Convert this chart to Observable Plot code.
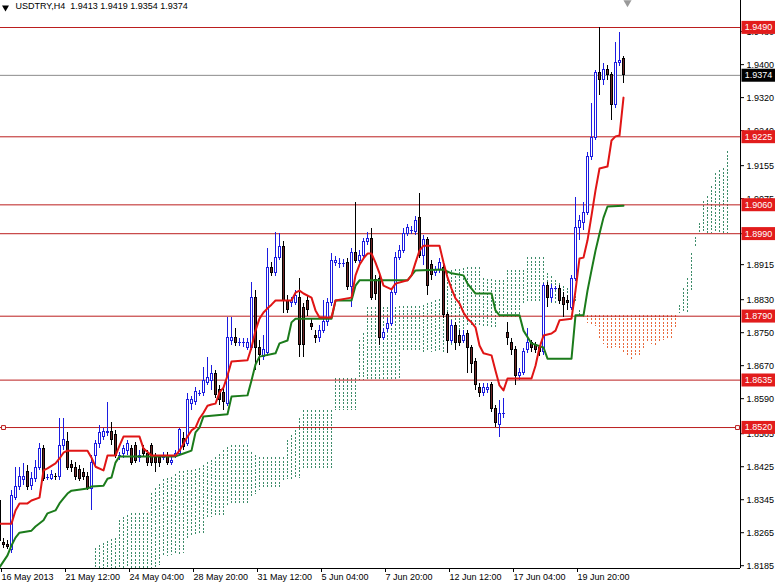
<!DOCTYPE html>
<html><head><meta charset="utf-8">
<script src="https://cdn.jsdelivr.net/npm/d3@7"></script>
<script src="https://cdn.jsdelivr.net/npm/@observablehq/plot@0.6"></script>
<style>
html,body{margin:0;padding:0;background:#fff;}
#chart svg{display:block;}
</style>
</head><body><div id="chart"></div>
<script>
const symbolName = "USDTRY,H4";
const lastQuote = [1.9413, 1.9419, 1.9354, 1.9374];

const open = [1.8343,1.8241,1.8234,1.8222,1.8350,1.8375,1.8392,1.8411,1.8379,1.8396,1.8423,1.8469,1.8399,1.8396,1.8401,1.8399,1.8476,1.8484,1.8428,1.8423,1.8416,1.8409,1.8399,1.8372,1.8452,1.8481,1.8496,1.8506,1.8508,1.8501,1.8452,1.8457,1.8464,1.8469,1.8476,1.8445,1.8469,1.8457,1.8476,1.8447,1.8445,1.8447,1.8452,1.8435,1.8452,1.8457,1.8493,1.8481,1.8578,1.8581,1.8603,1.8603,1.8629,1.8634,1.8651,1.8610,1.8603,1.8578,1.8731,1.8738,1.8726,1.8724,1.8714,1.8714,1.8833,1.8714,1.8690,1.8700,1.8906,1.8894,1.8932,1.8957,1.8828,1.8821,1.8823,1.8835,1.8809,1.8828,1.8772,1.8743,1.8736,1.8755,1.8775,1.8821,1.8918,1.8918,1.8918,1.8920,1.8860,1.8944,1.8925,1.8937,1.8969,1.8978,1.8877,1.8881,1.8738,1.8760,1.8772,1.8847,1.8932,1.8949,1.8990,1.8998,1.8993,1.9027,1.8937,1.8974,1.8913,1.8894,1.8901,1.8908,1.8792,1.8731,1.8767,1.8743,1.8731,1.8748,1.8712,1.8678,1.8617,1.8603,1.8610,1.8622,1.8566,1.8525,1.8554,1.8750,1.8726,1.8707,1.8646,1.8653,1.8707,1.8724,1.8719,1.8712,1.8702,1.8864,1.8833,1.8857,1.8857,1.8833,1.8828,1.8811,1.8881,1.9003,1.9017,1.9041,1.9175,1.9223,1.9379,1.9362,1.9388,1.9374,1.9301,1.9403,1.9413];
const high = [1.8360,1.8251,1.8246,1.8367,1.8423,1.8423,1.8433,1.8428,1.8411,1.8440,1.8481,1.8476,1.8406,1.8416,1.8409,1.8542,1.8542,1.8508,1.8440,1.8435,1.8428,1.8421,1.8411,1.8452,1.8489,1.8525,1.8518,1.8581,1.8532,1.8513,1.8459,1.8476,1.8489,1.8476,1.8484,1.8464,1.8476,1.8464,1.8481,1.8457,1.8452,1.8459,1.8459,1.8450,1.8464,1.8518,1.8508,1.8603,1.8595,1.8617,1.8610,1.8666,1.8690,1.8670,1.8658,1.8622,1.8615,1.8787,1.8787,1.8760,1.8736,1.8736,1.8736,1.8872,1.8852,1.8731,1.8743,1.8954,1.8920,1.8993,1.8990,1.8971,1.8840,1.8835,1.8852,1.8881,1.8821,1.8838,1.8784,1.8755,1.8767,1.8828,1.8833,1.8942,1.8935,1.8930,1.8928,1.8930,1.8954,1.9066,1.8949,1.8978,1.8993,1.9003,1.8889,1.8889,1.8760,1.8784,1.8857,1.8944,1.8961,1.9003,1.9012,1.9007,1.9032,1.9088,1.8986,1.8981,1.8925,1.8910,1.8930,1.8920,1.8799,1.8780,1.8775,1.8755,1.8755,1.8755,1.8719,1.8687,1.8627,1.8627,1.8627,1.8629,1.8573,1.8586,1.8590,1.8775,1.8736,1.8717,1.8663,1.8712,1.8760,1.8731,1.8726,1.8719,1.8869,1.8872,1.8867,1.8862,1.8864,1.8847,1.8840,1.8889,1.9078,1.9034,1.9066,1.9187,1.9306,1.9386,1.9490,1.9403,1.9398,1.9381,1.9454,1.9478,1.9419];
const low = [1.8229,1.8227,1.8224,1.8215,1.8343,1.8367,1.8379,1.8367,1.8367,1.8387,1.8416,1.8389,1.8392,1.8392,1.8392,1.8392,1.8464,1.8416,1.8411,1.8392,1.8389,1.8392,1.8367,1.8319,1.8428,1.8469,1.8489,1.8498,1.8476,1.8445,1.8440,1.8445,1.8452,1.8428,1.8433,1.8435,1.8447,1.8425,1.8425,1.8411,1.8423,1.8440,1.8428,1.8428,1.8445,1.8450,1.8464,1.8474,1.8561,1.8573,1.8595,1.8595,1.8622,1.8610,1.8590,1.8573,1.8561,1.8571,1.8719,1.8717,1.8717,1.8714,1.8707,1.8707,1.8658,1.8670,1.8683,1.8692,1.8886,1.8886,1.8925,1.8797,1.8797,1.8811,1.8816,1.8690,1.8690,1.8789,1.8755,1.8724,1.8726,1.8748,1.8765,1.8813,1.8910,1.8906,1.8908,1.8852,1.8811,1.8918,1.8918,1.8930,1.8961,1.8828,1.8828,1.8719,1.8731,1.8750,1.8765,1.8840,1.8925,1.8942,1.8983,1.8988,1.8986,1.8930,1.8913,1.8840,1.8877,1.8886,1.8894,1.8784,1.8700,1.8724,1.8707,1.8717,1.8724,1.8651,1.8651,1.8610,1.8593,1.8595,1.8603,1.8556,1.8520,1.8496,1.8542,1.8719,1.8695,1.8622,1.8634,1.8646,1.8700,1.8702,1.8700,1.8692,1.8695,1.8811,1.8823,1.8852,1.8818,1.8787,1.8804,1.8804,1.8874,1.8974,1.8998,1.9034,1.9168,1.9216,1.9325,1.9349,1.9362,1.9265,1.9294,1.9395,1.9354];
const close = [1.8246,1.8234,1.8231,1.8355,1.8375,1.8399,1.8399,1.8375,1.8396,1.8423,1.8469,1.8396,1.8399,1.8406,1.8399,1.8476,1.8489,1.8421,1.8421,1.8399,1.8396,1.8399,1.8372,1.8433,1.8481,1.8506,1.8508,1.8510,1.8489,1.8452,1.8452,1.8469,1.8481,1.8435,1.8440,1.8450,1.8457,1.8435,1.8433,1.8433,1.8433,1.8452,1.8435,1.8440,1.8457,1.8513,1.8472,1.8586,1.8586,1.8605,1.8603,1.8634,1.8641,1.8651,1.8598,1.8586,1.8581,1.8738,1.8738,1.8724,1.8726,1.8726,1.8726,1.8833,1.8714,1.8695,1.8707,1.8906,1.8894,1.8932,1.8957,1.8828,1.8804,1.8828,1.8840,1.8719,1.8719,1.8804,1.8763,1.8736,1.8755,1.8775,1.8821,1.8925,1.8925,1.8918,1.8918,1.8860,1.8944,1.8925,1.8937,1.8969,1.8978,1.8835,1.8845,1.8738,1.8750,1.8772,1.8847,1.8932,1.8949,1.8990,1.9003,1.8998,1.9022,1.8937,1.8974,1.8864,1.8889,1.8901,1.8918,1.8792,1.8731,1.8767,1.8726,1.8726,1.8743,1.8712,1.8675,1.8622,1.8603,1.8615,1.8617,1.8566,1.8530,1.8554,1.8554,1.8736,1.8707,1.8646,1.8653,1.8702,1.8726,1.8712,1.8707,1.8702,1.8864,1.8833,1.8857,1.8857,1.8828,1.8816,1.8821,1.8881,1.9005,1.9022,1.9041,1.9175,1.9223,1.9379,1.9362,1.9386,1.9374,1.9301,1.9403,1.9410,1.9374];

const tenkanBar = [0,3,4,5,7,8,10,11,12,14,15,16,17,22,23,24,26,27,29,30,31,35,36,38,44,45,46,47,48,49,50,51,52,53,54,55,56,57,58,62,63,64,65,66,67,68,69,73,74,75,76,78,79,80,83,84,88,89,90,91,92,93,94,95,96,98,99,102,103,104,105,106,110,111,112,113,114,115,116,117,118,119,120,121,123,124,125,126,127,133,134,135,136,138,139,140,143,144,145,146,147,148,149,150,152,153,154,155,156];
const tenkanVal = [1.8287,1.8287,1.8319,1.8336,1.8336,1.8343,1.8350,1.8416,1.8421,1.8433,1.8445,1.8459,1.8464,1.8464,1.8447,1.8425,1.8416,1.8452,1.8452,1.8476,1.8498,1.8498,1.8469,1.8452,1.8452,1.8464,1.8481,1.8498,1.8513,1.8520,1.8542,1.8556,1.8573,1.8576,1.8578,1.8605,1.8617,1.8646,1.8680,1.8683,1.8714,1.8755,1.8784,1.8799,1.8809,1.8818,1.8828,1.8828,1.8847,1.8852,1.8845,1.8835,1.8804,1.8787,1.8787,1.8828,1.8835,1.8889,1.8915,1.8930,1.8942,1.8942,1.8920,1.8894,1.8864,1.8855,1.8869,1.8877,1.8889,1.8920,1.8949,1.8961,1.8961,1.8920,1.8884,1.8857,1.8833,1.8821,1.8799,1.8784,1.8775,1.8763,1.8719,1.8700,1.8695,1.8658,1.8622,1.8610,1.8639,1.8639,1.8670,1.8714,1.8743,1.8748,1.8755,1.8780,1.8784,1.8852,1.8930,1.8932,1.8974,1.9034,1.9095,1.9148,1.9153,1.9216,1.9226,1.9228,1.9320];

const kijunBar = [0,2,3,4,5,8,9,11,12,14,15,16,17,18,22,23,26,27,28,29,30,44,46,48,49,50,51,57,58,62,63,64,65,69,70,72,73,74,83,84,88,89,90,102,104,111,113,116,117,119,123,124,125,130,131,133,136,137,143,144,146,147,148,149,150,151,152,156];
const kijunVal = [1.8181,1.8210,1.8234,1.8253,1.8265,1.8270,1.8280,1.8295,1.8312,1.8319,1.8336,1.8348,1.8360,1.8367,1.8372,1.8377,1.8379,1.8396,1.8399,1.8435,1.8450,1.8450,1.8457,1.8464,1.8508,1.8520,1.8547,1.8552,1.8595,1.8598,1.8634,1.8673,1.8692,1.8700,1.8724,1.8731,1.8775,1.8784,1.8784,1.8828,1.8828,1.8864,1.8877,1.8877,1.8901,1.8903,1.8894,1.8889,1.8869,1.8845,1.8845,1.8804,1.8792,1.8792,1.8755,1.8724,1.8714,1.8687,1.8687,1.8792,1.8792,1.8852,1.8901,1.8949,1.8990,1.9029,1.9056,1.9058];

// Ichimoku cloud, one value per bar, starting at bar 24 (cloud runs 26 bars ahead of price)
const cloudFirstBar = 24;
const spanA = [
1.8227,1.8234,1.8239,1.8244,1.8248,1.8251,1.8295,1.8302,1.8306,1.8311,
1.8311,1.8311,1.8311,1.8311,1.8360,1.8372,1.8382,1.8394,1.8397,1.8399,
1.8406,1.8413,1.8413,1.8416,1.8416,1.8418,1.8421,1.8428,1.8435,1.8441,
1.8447,1.8455,1.8464,1.8472,1.8476,1.8476,1.8476,1.8476,1.8476,1.8459,
1.8453,1.8447,1.8447,1.8447,1.8447,1.8447,1.8447,1.8447,1.8489,1.8501,
1.8513,1.8542,1.8561,1.8561,1.8561,1.8561,1.8561,1.8561,1.8561,1.8561,
1.8639,1.8639,1.8639,1.8639,1.8639,1.8639,1.8731,1.8748,1.8811,1.8811,
1.8811,1.8811,1.8812,1.8812,1.8812,1.8812,1.8813,1.8813,1.8813,1.8813,
1.8813,1.8813,1.8817,1.8821,1.8824,1.8827,1.8830,1.8833,1.8896,1.8901,
1.8903,1.8904,1.8906,1.8908,1.8908,1.8908,1.8908,1.8881,1.8880,1.8878,
1.8877,1.8877,1.8877,1.8901,1.8901,1.8901,1.8901,1.8901,1.8932,1.8932,
1.8932,1.8932,1.8932,1.8894,1.8886,1.8877,1.8869,1.8863,1.8858,1.8852,
1.8838,1.8804,1.8784,1.8772,1.8768,1.8765,1.8736,1.8722,1.8707,1.8710,
1.8714,1.8708,1.8702,1.8692,1.8683,1.8689,1.8695,1.8710,1.8726,1.8722,
1.8719,1.8725,1.8731,1.8733,1.8736,1.8760,1.8816,1.8857,1.8881,1.8942,
1.8981,1.9015,1.9068,1.9080,1.9104,1.9136,1.9143,1.9148,1.9189];
const spanB = [
1.8137,1.8137,1.8137,1.8137,1.8137,1.8137,1.8137,1.8137,1.8137,1.8137,
1.8137,1.8137,1.8137,1.8137,1.8137,1.8137,1.8185,1.8207,1.8208,1.8210,
1.8211,1.8212,1.8215,1.8246,1.8258,1.8260,1.8261,1.8263,1.8302,1.8302,
1.8302,1.8302,1.8302,1.8329,1.8331,1.8332,1.8333,1.8335,1.8336,1.8350,
1.8358,1.8367,1.8369,1.8370,1.8372,1.8373,1.8375,1.8392,1.8394,1.8395,
1.8396,1.8396,1.8416,1.8416,1.8416,1.8416,1.8416,1.8416,1.8416,1.8416,
1.8561,1.8561,1.8561,1.8561,1.8561,1.8561,1.8634,1.8634,1.8636,1.8636,
1.8636,1.8636,1.8636,1.8636,1.8636,1.8636,1.8639,1.8702,1.8702,1.8702,
1.8702,1.8702,1.8702,1.8702,1.8702,1.8702,1.8702,1.8702,1.8702,1.8719,
1.8721,1.8722,1.8724,1.8763,1.8763,1.8763,1.8763,1.8763,1.8763,1.8763,
1.8763,1.8787,1.8787,1.8787,1.8787,1.8787,1.8787,1.8821,1.8821,1.8821,
1.8821,1.8821,1.8821,1.8821,1.8821,1.8821,1.8821,1.8821,1.8821,1.8821,
1.8821,1.8792,1.8792,1.8792,1.8792,1.8792,1.8792,1.8792,1.8792,1.8792,
1.8792,1.8792,1.8792,1.8792,1.8792,1.8792,1.8792,1.8792,1.8792,1.8792,
1.8792,1.8792,1.8792,1.8792,1.8792,1.8792,1.8797,1.8797,1.8797,1.8852,
1.8957,1.8990,1.8990,1.8990,1.8990,1.8990,1.8990,1.8990,1.8990];

const levels = [1.9490, 1.9225, 1.9060, 1.8990, 1.8790, 1.8635, 1.8520];
const currentPrice = 1.9374;
const markedLevel = 1.8520;
const shiftMarkerBar = 157;
const yTicks = [1.9480,1.9400,1.9320,1.9240,1.9155,1.9075,1.8990,1.8915,1.8830,1.8750,1.8670,1.8590,1.8505,1.8425,1.8345,1.8265,1.8185];
const xTickBar = [0,16,32,48,64,80,96,112,128,144];
const xTickLabels = ["16 May 2013","21 May 12:00","24 May 04:00","28 May 20:00","31 May 12:00","5 Jun 04:00","7 Jun 20:00","12 Jun 12:00","17 Jun 04:00","19 Jun 20:00"];

const xDomain = [0.25, 185.25];
const yDomain = [1.81782, 1.95555];

const candles = open.map((o, i) => ({i, o, h: high[i], l: low[i], c: close[i]}));
const isDoji = d => Math.abs(d.c - d.o) < 0.00005;
const tenkan = tenkanBar.map((b, k) => ({b, v: tenkanVal[k]}));
const kijun = kijunBar.map((b, k) => ({b, v: kijunVal[k]}));
const cloud = spanA.map((a, k) => ({b: cloudFirstBar + k, a, s: spanB[k]}));

const upColor = "#1c1ce0", downFill = "#6e2727", downStroke = "#000000";
const lvlColor = "#bb1e1e";
const cloudUp = "#3d8c6a", cloudDown = "#e8693c";
const font = "Liberation Sans, Arial, sans-serif";
const fs = 9;

const svg = Plot.plot({
  width: 775, height: 584,
  marginLeft: 0, marginRight: 35, marginTop: 0, marginBottom: 16,
  style: {fontFamily: font, fontSize: fs + "px", background: "#fff", color: "#000", overflow: "visible"},
  x: {domain: xDomain, label: null},
  y: {domain: yDomain, label: null},
  marks: [
    Plot.ruleX(cloud, {x: "b", y1: d => Math.max(d.a, d.s), y2: d => Math.min(d.a, d.s),
      stroke: d => d.a >= d.s ? cloudUp : cloudDown, strokeDasharray: "2,1.5", strokeWidth: 1, clip: true, shapeRendering: "crispEdges"}),
    Plot.ruleY([currentPrice], {stroke: "#8c8c8c", strokeWidth: 1}),
    Plot.ruleY(levels, {stroke: lvlColor, strokeWidth: 1}),
    Plot.ruleX(candles, {x: "i", y1: "l", y2: "h", stroke: d => d.c >= d.o ? upColor : downStroke, shapeRendering: "crispEdges"}),
    Plot.rect(candles.filter(d => !isDoji(d)), {x1: d => d.i - 0.125, x2: d => d.i + 0.375, y1: "o", y2: "c",
      fill: d => d.c >= d.o ? "#ffffff" : downFill, stroke: d => d.c >= d.o ? upColor : downStroke, shapeRendering: "crispEdges"}),
    Plot.ruleY(candles.filter(isDoji), {y: "c", x1: d => d.i - 0.25, x2: d => d.i + 0.5, stroke: upColor, shapeRendering: "crispEdges"}),
    Plot.line(kijun, {x: "b", y: "v", stroke: "#1b7b1b", strokeWidth: 2}),
    Plot.line(tenkan, {x: "b", y: "v", stroke: "#e01515", strokeWidth: 2}),
    Plot.ruleX([xDomain[1]], {stroke: "#000"}),
    Plot.ruleY([yDomain[0]], {stroke: "#000"}),
    Plot.axisX(xTickBar, {anchor: "bottom", tickSize: 4, tickPadding: 1, textAnchor: "start", dx: 2,
      tickFormat: d => xTickLabels[xTickBar.indexOf(d)], fontSize: fs}),
    Plot.axisY(yTicks, {anchor: "right", tickSize: 3, tickPadding: 3, tickFormat: d => d.toFixed(4), fontSize: fs}),
    Plot.text(levels, {y: d => d, frameAnchor: "right", dx: 18, text: d => d.toFixed(4), fill: "white", textAnchor: "middle", fontSize: fs}),
    Plot.text([currentPrice], {y: d => d, frameAnchor: "right", dx: 18, text: d => d.toFixed(4), fill: "#fffffe", textAnchor: "middle", fontSize: fs}),
    Plot.dot([markedLevel], {y: d => d, frameAnchor: "left", dx: 3, symbol: "square", r: 2.2, stroke: lvlColor, fill: "#fff", strokeWidth: 1}),
    Plot.dot([markedLevel], {y: d => d, frameAnchor: "right", dx: -3, symbol: "square", r: 2.2, stroke: lvlColor, fill: "#fff", strokeWidth: 1}),
    Plot.dot([shiftMarkerBar], {x: d => d, frameAnchor: "top", dy: 2, symbol: "triangle", r: 3, rotate: 180, fill: "#9a9a9a", stroke: "none"}),
    Plot.text([`${symbolName}  ${lastQuote.map(v => v.toFixed(4)).join(" ")}`], {frameAnchor: "top-left", dx: 15, dy: 2, lineAnchor: "top", textAnchor: "start", fontSize: fs}),
    Plot.dot([0], {frameAnchor: "top-left", dx: 5, dy: 7, symbol: "triangle", r: 2.6, rotate: 180, fill: "#000", stroke: "none"})
  ]
});
document.getElementById("chart").appendChild(svg);

const s = d3.select(svg);
function boxes(fillAttr, color) {
  s.selectAll("g").filter(function() { return this.getAttribute("fill") === fillAttr; })
    .selectAll("text").each(function() {
      const node = this;
      const b = node.getBBox();
      const r = d3.select(node.parentNode).insert("rect", () => node)
        .attr("x", b.x + b.width / 2 - 17).attr("y", b.y + b.height / 2 - 6.5)
        .attr("width", 34).attr("height", 13).attr("fill", color);
      const t = node.getAttribute("transform");
      if (t) r.attr("transform", t);
    });
}
boxes("white", "#e21c1c");
boxes("#fffffe", "#000000");
</script>
</body></html>
